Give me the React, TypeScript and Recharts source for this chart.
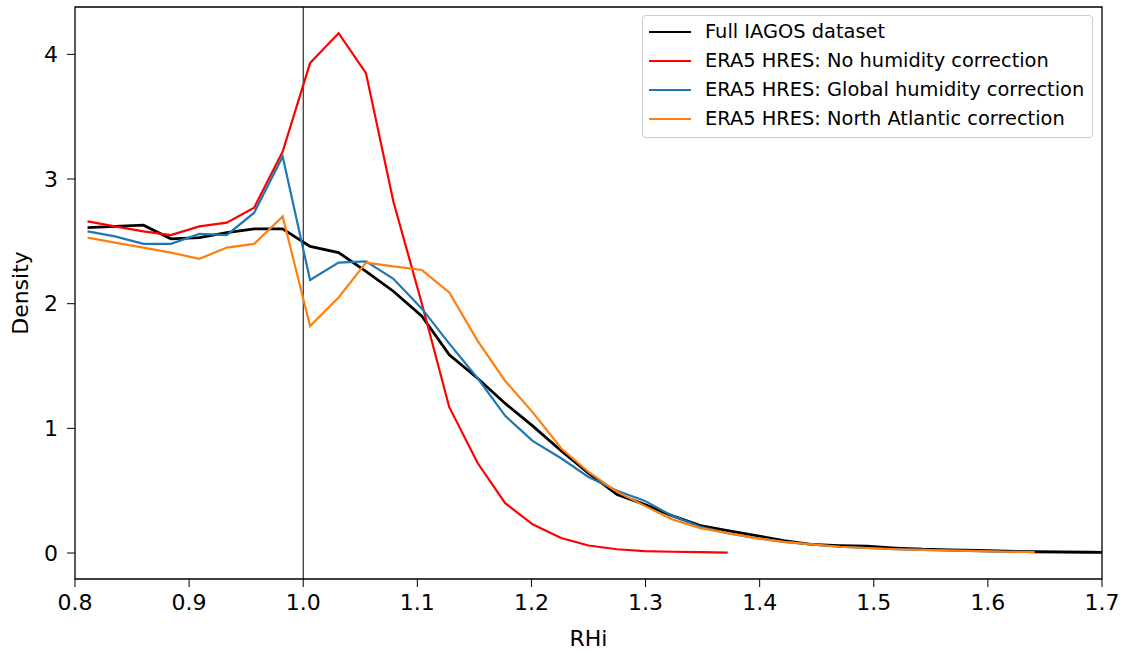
import React from 'react';
import { LineChart, Line, XAxis, YAxis, ReferenceLine, ReferenceArea, Label } from 'recharts';

// bin centres of RHi
const rhi = [
  0.811, 0.835, 0.86, 0.884, 0.909, 0.933, 0.957, 0.982, 1.006, 1.031,
  1.055, 1.079, 1.104, 1.128, 1.153, 1.177, 1.201, 1.226, 1.25, 1.275,
  1.299, 1.323, 1.348, 1.372, 1.397, 1.421, 1.445, 1.47, 1.494, 1.519,
  1.543, 1.567, 1.592, 1.616, 1.641, 1.665, 1.689, 1.714,
];

const iagos = [
  2.61, 2.62, 2.63, 2.52, 2.53, 2.57, 2.6, 2.6, 2.46, 2.41,
  2.26, 2.1, 1.9, 1.59, 1.4, 1.2, 1.02, 0.82, 0.64, 0.47,
  0.39, 0.3, 0.22, 0.18, 0.14, 0.1, 0.07, 0.06, 0.055, 0.04,
  0.03, 0.025, 0.02, 0.015, 0.01, 0.008, 0.006, 0.005,
];

const noCorr = [
  2.66, 2.62, 2.58, 2.55, 2.62, 2.65, 2.77, 3.22, 3.93, 4.17,
  3.85, 2.82, 2.0, 1.17, 0.72, 0.4, 0.23, 0.12, 0.06, 0.03,
  0.015, 0.01, 0.007, 0.003,
];

const globalCorr = [
  2.58, 2.54, 2.48, 2.48, 2.56, 2.55, 2.73, 3.18, 2.19, 2.33,
  2.34, 2.2, 1.96, 1.68, 1.4, 1.1, 0.9, 0.76, 0.61, 0.5,
  0.42, 0.3, 0.21, 0.16, 0.12, 0.09, 0.07, 0.05, 0.04, 0.03,
  0.025, 0.02, 0.015, 0.01, 0.008,
];

const northAtlantic = [
  2.53, 2.49, 2.45, 2.41, 2.36, 2.45, 2.48, 2.7, 1.82, 2.05,
  2.33, 2.3, 2.27, 2.09, 1.7, 1.38, 1.13, 0.84, 0.65, 0.49,
  0.38, 0.27, 0.2, 0.16, 0.12, 0.09, 0.07, 0.05, 0.04, 0.03,
  0.025, 0.02, 0.015, 0.01, 0.008,
];

const xTicks = [0.8, 0.9, 1.0, 1.1, 1.2, 1.3, 1.4, 1.5, 1.6, 1.7];
const yTicks = [0, 1, 2, 3, 4];

const series = [
  { key: 'iagos', name: 'Full IAGOS dataset', color: '#000000', width: 2.8, values: iagos },
  { key: 'noCorr', name: 'ERA5 HRES: No humidity correction', color: '#ff0000', width: 2.2, values: noCorr },
  { key: 'globalCorr', name: 'ERA5 HRES: Global humidity correction', color: '#1f77b4', width: 2.2, values: globalCorr },
  { key: 'northAtlantic', name: 'ERA5 HRES: North Atlantic correction', color: '#ff7f0e', width: 2.2, values: northAtlantic },
];

const data = rhi.map((x, i) => {
  const row: Record<string, number | undefined> = { x };
  series.forEach((s) => {
    row[s.key] = s.values[i];
  });
  return row;
});

const font = "'DejaVu Sans', sans-serif";
const tickStyle = { fontSize: 22, fill: '#000', fontFamily: font };

export default function App() {
  return (
    <div style={{ position: 'absolute', left: 0, top: 0, width: 1126, height: 653, background: '#fff' }}>
      <LineChart width={1126} height={653} data={data} margin={{ top: 7, right: 24, left: 0, bottom: 0 }}>
        <XAxis
          dataKey="x"
          type="number"
          domain={[0.8, 1.7]}
          allowDataOverflow
          ticks={xTicks}
          tickFormatter={(v: number) => v.toFixed(1)}
          height={74}
          tick={tickStyle}
          tickSize={8}
          tickMargin={7}
          stroke="#000"
          axisLine={false}
        >
          <Label value="RHi" position="insideBottom" offset={7} style={{ fontSize: 22, fill: '#000', fontFamily: font }} />
        </XAxis>
        <YAxis
          type="number"
          domain={[-0.2085, 4.38]}
          allowDataOverflow
          ticks={yTicks}
          width={75}
          tick={tickStyle}
          tickSize={8}
          tickMargin={9}
          stroke="#000"
          axisLine={false}
        >
          <Label value="Density" angle={-90} position="insideLeft" offset={20} style={{ fontSize: 22, fill: '#000', fontFamily: font, textAnchor: 'middle' }} />
        </YAxis>
        <ReferenceLine x={1.0} stroke="#000" strokeWidth={1} />
        {series.map((s) => (
          <Line
            key={s.key}
            dataKey={s.key}
            name={s.name}
            type="linear"
            stroke={s.color}
            strokeWidth={s.width}
            dot={false}
            activeDot={false}
            isAnimationActive={false}
          />
        ))}
        <ReferenceArea x1={0.8} x2={1.7} y1={-0.2085} y2={4.38} fill="none" stroke="#000" strokeWidth={1.3} />
      </LineChart>
      <div
        style={{
          position: 'absolute',
          left: 642,
          top: 15,
          width: 451,
          height: 123,
          boxSizing: 'border-box',
          border: '1px solid #cccccc',
          borderRadius: 4,
          background: 'rgba(255,255,255,0.8)',
          fontFamily: font,
          fontSize: 19.4,
          color: '#000',
          paddingTop: 1,
        }}
      >
        {series.map((s) => (
          <div key={s.key} style={{ display: 'flex', alignItems: 'center', height: 29, whiteSpace: 'nowrap' }}>
            <div style={{ width: 42, height: 0, borderTop: `${s.width}px solid ${s.color}`, marginLeft: 6, marginRight: 14 }} />
            <span>{s.name}</span>
          </div>
        ))}
      </div>
    </div>
  );
}
